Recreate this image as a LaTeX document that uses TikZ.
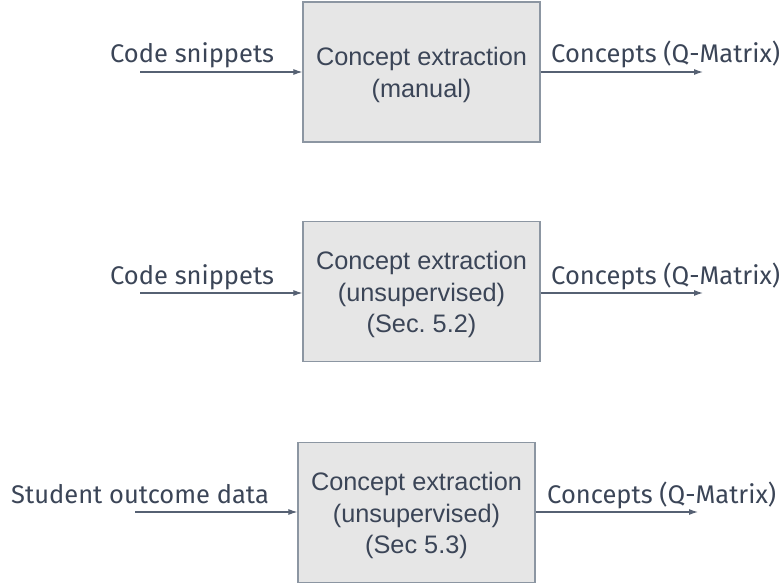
\documentclass[tikz,border=0pt]{standalone}
\usepackage{fontspec}
\setmainfont{Liberation Sans}
\newfontfamily\fira{Fira Sans}
\usetikzlibrary{arrows.meta}
\definecolor{txt}{HTML}{3B4557}
\definecolor{arr}{HTML}{566173}
\definecolor{boxline}{HTML}{8C96A2}
\definecolor{boxfill}{HTML}{E6E6E6}
\begin{document}
\begin{tikzpicture}[x=1pt,y=-1pt,
  procbox/.style={draw=boxline,fill=boxfill,line width=1.2pt,minimum width=237pt,minimum height=140pt,inner sep=0pt},
  boxtext/.style={align=center,inner sep=0pt,text=txt,yshift=-3pt,font=\fontsize{25.3}{31.5}\selectfont},
  lbl/.style={anchor=base west,inner sep=0pt,text=txt,font=\fira\fontsize{25.5}{28}\selectfont},
  flow/.style={draw=arr,line width=1.1pt,-{Latex[length=9pt,width=6pt]}}]
\useasboundingbox (0,0) rectangle (783,585);
% row 1
\node[procbox] (b1) at (421.5,72) {};
\node[boxtext] (t1) at (b1.center) {Concept extraction\\(manual)};
\node[lbl] (i1) at (110,63) {Code snippets};
\node[lbl] (o1) at (551,63) {Concepts (Q-Matrix)};
\coordinate (s1) at (140,72);
\coordinate (e1) at (703,72);
\draw[flow] (s1) -- (b1.west|-s1);
\draw[flow] (b1.east|-e1) -- (e1);
% row 2
\node[procbox] (b2) at (421.5,291.5) {};
\node[boxtext] (t2) at (b2.center) {Concept extraction\\(unsupervised)\\(Sec.\ 5.2)};
\node[lbl] (i2) at (110,284) {Code snippets};
\node[lbl] (o2) at (551,284) {Concepts (Q-Matrix)};
\coordinate (s2) at (140,293);
\coordinate (e2) at (703,293);
\draw[flow] (s2) -- (b2.west|-s2);
\draw[flow] (b2.east|-e2) -- (e2);
% row 3
\node[procbox] (b3) at (416.5,512.5) {};
\node[boxtext] (t3) at (b3.center) {Concept extraction\\(unsupervised)\\(Sec 5.3)};
\node[lbl] (i3) at (11,503) {Student outcome data};
\node[lbl] (o3) at (547,503) {Concepts (Q-Matrix)};
\coordinate (s3) at (135,512);
\coordinate (e3) at (698,512);
\draw[flow] (s3) -- (b3.west|-s3);
\draw[flow] (b3.east|-e3) -- (e3);
\end{tikzpicture}
\end{document}
